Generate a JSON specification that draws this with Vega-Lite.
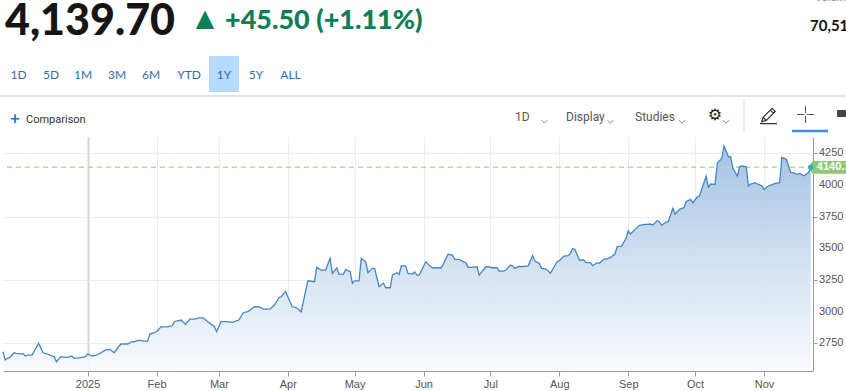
{
  "$schema": "https://vega.github.io/schema/vega-lite/v6.json",
  "width": 810,
  "height": 234,
  "autosize": "none",
  "padding": {"left": 3, "top": 137, "right": 33, "bottom": 20},
  "background": "white",
  "config": {"view": {"stroke": null}, "font": "Lato", "axisY": {"labelOverlap": false}},
  "datasets": {
    "prices": [
      {"date": "2024-11-24", "close": 2684}, {"date": "2024-11-25", "close": 2619}, {"date": "2024-11-26", "close": 2632},
      {"date": "2024-11-27", "close": 2637}, {"date": "2024-11-29", "close": 2676}, {"date": "2024-11-30", "close": 2671},
      {"date": "2024-12-02", "close": 2666}, {"date": "2024-12-03", "close": 2671}, {"date": "2024-12-04", "close": 2650},
      {"date": "2024-12-05", "close": 2658}, {"date": "2024-12-07", "close": 2658}, {"date": "2024-12-10", "close": 2750},
      {"date": "2024-12-12", "close": 2676}, {"date": "2024-12-14", "close": 2666}, {"date": "2024-12-17", "close": 2645},
      {"date": "2024-12-18", "close": 2605}, {"date": "2024-12-20", "close": 2645}, {"date": "2024-12-22", "close": 2640},
      {"date": "2024-12-23", "close": 2640}, {"date": "2024-12-25", "close": 2650}, {"date": "2024-12-26", "close": 2632},
      {"date": "2024-12-29", "close": 2637}, {"date": "2024-12-31", "close": 2645}, {"date": "2025-01-01", "close": 2666},
      {"date": "2025-01-03", "close": 2650}, {"date": "2025-01-05", "close": 2658}, {"date": "2025-01-07", "close": 2676},
      {"date": "2025-01-09", "close": 2697}, {"date": "2025-01-11", "close": 2703}, {"date": "2025-01-13", "close": 2676},
      {"date": "2025-01-15", "close": 2724}, {"date": "2025-01-16", "close": 2745}, {"date": "2025-01-19", "close": 2745},
      {"date": "2025-01-21", "close": 2763}, {"date": "2025-01-22", "close": 2763}, {"date": "2025-01-24", "close": 2776},
      {"date": "2025-01-26", "close": 2768}, {"date": "2025-01-28", "close": 2768}, {"date": "2025-01-29", "close": 2824},
      {"date": "2025-01-31", "close": 2834}, {"date": "2025-02-01", "close": 2842}, {"date": "2025-02-03", "close": 2881},
      {"date": "2025-02-06", "close": 2881}, {"date": "2025-02-08", "close": 2889}, {"date": "2025-02-09", "close": 2921},
      {"date": "2025-02-12", "close": 2934}, {"date": "2025-02-14", "close": 2900}, {"date": "2025-02-16", "close": 2942},
      {"date": "2025-02-18", "close": 2942}, {"date": "2025-02-20", "close": 2952}, {"date": "2025-02-22", "close": 2952},
      {"date": "2025-02-24", "close": 2921}, {"date": "2025-02-27", "close": 2881}, {"date": "2025-02-28", "close": 2842},
      {"date": "2025-03-02", "close": 2921}, {"date": "2025-03-05", "close": 2921}, {"date": "2025-03-07", "close": 2916},
      {"date": "2025-03-10", "close": 2934}, {"date": "2025-03-12", "close": 2992}, {"date": "2025-03-14", "close": 3000},
      {"date": "2025-03-17", "close": 3039}, {"date": "2025-03-19", "close": 3039}, {"date": "2025-03-21", "close": 3021},
      {"date": "2025-03-24", "close": 3021}, {"date": "2025-03-26", "close": 3053}, {"date": "2025-03-28", "close": 3110},
      {"date": "2025-03-29", "close": 3118}, {"date": "2025-03-31", "close": 3158}, {"date": "2025-04-03", "close": 3039},
      {"date": "2025-04-05", "close": 3031}, {"date": "2025-04-07", "close": 3000}, {"date": "2025-04-10", "close": 3244},
      {"date": "2025-04-13", "close": 3237}, {"date": "2025-04-14", "close": 3350}, {"date": "2025-04-16", "close": 3329},
      {"date": "2025-04-18", "close": 3329}, {"date": "2025-04-20", "close": 3421}, {"date": "2025-04-21", "close": 3303},
      {"date": "2025-04-23", "close": 3347}, {"date": "2025-04-24", "close": 3295}, {"date": "2025-04-26", "close": 3297},
      {"date": "2025-04-27", "close": 3334}, {"date": "2025-04-29", "close": 3316}, {"date": "2025-04-30", "close": 3224},
      {"date": "2025-05-01", "close": 3244}, {"date": "2025-05-03", "close": 3244}, {"date": "2025-05-04", "close": 3421},
      {"date": "2025-05-06", "close": 3394}, {"date": "2025-05-07", "close": 3308}, {"date": "2025-05-09", "close": 3342},
      {"date": "2025-05-10", "close": 3342}, {"date": "2025-05-12", "close": 3197}, {"date": "2025-05-14", "close": 3224},
      {"date": "2025-05-15", "close": 3189}, {"date": "2025-05-17", "close": 3189}, {"date": "2025-05-18", "close": 3289},
      {"date": "2025-05-20", "close": 3308}, {"date": "2025-05-21", "close": 3295}, {"date": "2025-05-22", "close": 3363},
      {"date": "2025-05-24", "close": 3360}, {"date": "2025-05-25", "close": 3303}, {"date": "2025-05-27", "close": 3297},
      {"date": "2025-05-28", "close": 3313}, {"date": "2025-05-29", "close": 3289}, {"date": "2025-05-30", "close": 3289},
      {"date": "2025-06-02", "close": 3394}, {"date": "2025-06-04", "close": 3360}, {"date": "2025-06-05", "close": 3347},
      {"date": "2025-06-09", "close": 3347}, {"date": "2025-06-12", "close": 3453}, {"date": "2025-06-14", "close": 3447},
      {"date": "2025-06-15", "close": 3413}, {"date": "2025-06-17", "close": 3413}, {"date": "2025-06-19", "close": 3394},
      {"date": "2025-06-20", "close": 3387}, {"date": "2025-06-21", "close": 3350}, {"date": "2025-06-23", "close": 3350},
      {"date": "2025-06-25", "close": 3355}, {"date": "2025-06-26", "close": 3289}, {"date": "2025-06-29", "close": 3355},
      {"date": "2025-06-30", "close": 3355}, {"date": "2025-07-02", "close": 3347}, {"date": "2025-07-04", "close": 3347},
      {"date": "2025-07-05", "close": 3321}, {"date": "2025-07-07", "close": 3321}, {"date": "2025-07-08", "close": 3329},
      {"date": "2025-07-10", "close": 3368}, {"date": "2025-07-11", "close": 3360}, {"date": "2025-07-12", "close": 3342},
      {"date": "2025-07-14", "close": 3360}, {"date": "2025-07-15", "close": 3355}, {"date": "2025-07-17", "close": 3360},
      {"date": "2025-07-18", "close": 3360}, {"date": "2025-07-20", "close": 3442}, {"date": "2025-07-21", "close": 3400},
      {"date": "2025-07-23", "close": 3382}, {"date": "2025-07-24", "close": 3342}, {"date": "2025-07-26", "close": 3337},
      {"date": "2025-07-28", "close": 3303}, {"date": "2025-07-31", "close": 3394}, {"date": "2025-08-01", "close": 3402},
      {"date": "2025-08-03", "close": 3439}, {"date": "2025-08-05", "close": 3442}, {"date": "2025-08-06", "close": 3461},
      {"date": "2025-08-07", "close": 3497}, {"date": "2025-08-08", "close": 3492}, {"date": "2025-08-10", "close": 3408},
      {"date": "2025-08-12", "close": 3408}, {"date": "2025-08-13", "close": 3387}, {"date": "2025-08-15", "close": 3387},
      {"date": "2025-08-16", "close": 3363}, {"date": "2025-08-18", "close": 3387}, {"date": "2025-08-19", "close": 3382},
      {"date": "2025-08-21", "close": 3413}, {"date": "2025-08-22", "close": 3416}, {"date": "2025-08-24", "close": 3429},
      {"date": "2025-08-26", "close": 3455}, {"date": "2025-08-27", "close": 3513}, {"date": "2025-08-29", "close": 3518},
      {"date": "2025-08-31", "close": 3579}, {"date": "2025-09-01", "close": 3639}, {"date": "2025-09-02", "close": 3613},
      {"date": "2025-09-04", "close": 3650}, {"date": "2025-09-06", "close": 3682}, {"date": "2025-09-08", "close": 3687},
      {"date": "2025-09-11", "close": 3692}, {"date": "2025-09-12", "close": 3684}, {"date": "2025-09-14", "close": 3718},
      {"date": "2025-09-15", "close": 3710}, {"date": "2025-09-16", "close": 3682}, {"date": "2025-09-18", "close": 3708},
      {"date": "2025-09-19", "close": 3713}, {"date": "2025-09-21", "close": 3816}, {"date": "2025-09-22", "close": 3771},
      {"date": "2025-09-24", "close": 3808}, {"date": "2025-09-26", "close": 3821}, {"date": "2025-09-27", "close": 3868},
      {"date": "2025-09-29", "close": 3887}, {"date": "2025-09-30", "close": 3860}, {"date": "2025-10-02", "close": 3907},
      {"date": "2025-10-03", "close": 3913}, {"date": "2025-10-04", "close": 3966}, {"date": "2025-10-06", "close": 4071},
      {"date": "2025-10-07", "close": 3982}, {"date": "2025-10-08", "close": 4008}, {"date": "2025-10-10", "close": 4005},
      {"date": "2025-10-11", "close": 4171}, {"date": "2025-10-13", "close": 4211}, {"date": "2025-10-14", "close": 4308},
      {"date": "2025-10-16", "close": 4223}, {"date": "2025-10-17", "close": 4223}, {"date": "2025-10-18", "close": 4132},
      {"date": "2025-10-20", "close": 4071}, {"date": "2025-10-21", "close": 4144}, {"date": "2025-10-22", "close": 4150},
      {"date": "2025-10-24", "close": 4144}, {"date": "2025-10-25", "close": 3992}, {"date": "2025-10-26", "close": 4008},
      {"date": "2025-10-28", "close": 4018}, {"date": "2025-10-29", "close": 4008}, {"date": "2025-10-31", "close": 3994},
      {"date": "2025-11-01", "close": 3966}, {"date": "2025-11-03", "close": 3992}, {"date": "2025-11-04", "close": 4000},
      {"date": "2025-11-06", "close": 4013}, {"date": "2025-11-08", "close": 4018}, {"date": "2025-11-09", "close": 4218},
      {"date": "2025-11-11", "close": 4203}, {"date": "2025-11-13", "close": 4100}, {"date": "2025-11-14", "close": 4097},
      {"date": "2025-11-16", "close": 4084}, {"date": "2025-11-17", "close": 4092}, {"date": "2025-11-19", "close": 4073},
      {"date": "2025-11-20", "close": 4087}, {"date": "2025-11-21", "close": 4097}, {"date": "2025-11-22", "close": 4139.7}
    ],
    "last": [{"date": "2025-11-22", "close": 4139.7, "tag": "4140.1"}],
    "yticks": [{"close": 2750}, {"close": 3000}, {"close": 3250}, {"close": 3500}, {"close": 3750}, {"close": 4000}, {"close": 4250}]
  },
  "layer": [
    {
      "data": {"name": "prices"},
      "mark": {
        "type": "area",
        "fillOpacity": 0.92,
        "color": {
          "gradient": "linear", "x1": 0, "y1": 0, "x2": 0, "y2": 1,
          "stops": [
            {"offset": 0, "color": "#9dbde0"},
            {"offset": 0.5, "color": "#cddef0"},
            {"offset": 1, "color": "#f8fafd"}
          ]
        }
      },
      "encoding": {
        "x": {
          "field": "date", "type": "temporal",
          "scale": {"type": "utc", "domain": [{"year": 2024, "month": 11, "date": 24, "utc": true}, {"year": 2025, "month": 11, "date": 23, "utc": true}]},
          "axis": {
            "title": null,
            "values": [
              {"year": 2025, "month": 1, "date": 1, "utc": true}, {"year": 2025, "month": 2, "date": 1, "utc": true},
              {"year": 2025, "month": 3, "date": 1, "utc": true}, {"year": 2025, "month": 4, "date": 1, "utc": true},
              {"year": 2025, "month": 5, "date": 1, "utc": true}, {"year": 2025, "month": 6, "date": 1, "utc": true},
              {"year": 2025, "month": 7, "date": 1, "utc": true}, {"year": 2025, "month": 8, "date": 1, "utc": true},
              {"year": 2025, "month": 9, "date": 1, "utc": true}, {"year": 2025, "month": 10, "date": 1, "utc": true},
              {"year": 2025, "month": 11, "date": 1, "utc": true}
            ],
            "labelExpr": "utcmonth(datum.value) == 0 ? utcFormat(datum.value, '%Y') : utcFormat(datum.value, '%b')",
            "grid": true,
            "gridColor": {"condition": {"test": "utcmonth(datum.value) == 0", "value": "#d4d4d4"}, "value": "#ececec"},
            "gridWidth": {"condition": {"test": "utcmonth(datum.value) == 0", "value": 2}, "value": 1},
            "domainColor": "#9a9a9a", "tickColor": "#9a9a9a", "tickSize": 5,
            "labelFont": "Liberation Sans", "labelFontSize": 11, "labelColor": "#555555",
            "labelPadding": 2, "labelFlush": false, "labelOverlap": false
          }
        },
        "y": {
          "field": "close", "type": "quantitative",
          "scale": {"domain": [2532, 4379], "zero": false, "nice": false},
          "axis": {
            "title": null, "orient": "right",
            "values": [2750, 3000, 3250, 3500, 3750, 4000, 4250],
            "labels": false, "grid": true, "gridColor": "#ececec",
            "domainColor": "#9a9a9a", "tickColor": "#9a9a9a", "tickSize": 4
          }
        },
        "y2": {"datum": 2532}
      }
    },
    {
      "data": {"name": "yticks"},
      "mark": {"type": "text", "align": "left", "baseline": "middle", "font": "Liberation Sans", "fontSize": 11, "color": "#555555"},
      "encoding": {
        "x": {"value": 816},
        "y": {"field": "close", "type": "quantitative"},
        "text": {"field": "close", "type": "quantitative", "format": "d"}
      }
    },
    {
      "data": {"name": "last"},
      "mark": {"type": "rule", "color": "#b3dc9c", "strokeWidth": 1.5, "strokeDash": [5, 4]},
      "encoding": {"y": {"field": "close", "type": "quantitative"}}
    },
    {
      "data": {"name": "prices"},
      "mark": {"type": "line", "color": "#4486c6", "strokeWidth": 1.3},
      "encoding": {
        "x": {"field": "date", "type": "temporal"},
        "y": {"field": "close", "type": "quantitative"}
      }
    },
    {
      "data": {"name": "last"},
      "mark": {"type": "point", "shape": "M-0.15,0L0.1,-0.32L2.3,-0.32L2.3,0.32L0.1,0.32Z", "size": 1600, "filled": true, "color": "#8ec874", "opacity": 1},
      "encoding": {
        "x": {"field": "date", "type": "temporal"},
        "y": {"field": "close", "type": "quantitative"}
      }
    },
    {
      "data": {"name": "last"},
      "mark": {"type": "text", "align": "left", "baseline": "middle", "dx": 6, "font": "Liberation Sans", "fontWeight": "bold", "fontSize": 11, "color": "white"},
      "encoding": {
        "x": {"field": "date", "type": "temporal"},
        "y": {"field": "close", "type": "quantitative"},
        "text": {"field": "tag"}
      }
    },
    {
      "data": {"name": "last"},
      "mark": {"type": "point", "filled": true, "color": "#2aa7e8", "size": 28, "opacity": 1},
      "encoding": {
        "x": {"field": "date", "type": "temporal"},
        "y": {"field": "close", "type": "quantitative"}
      }
    },
    {
      "data": {"values": [{"t": "4,139.70"}]},
      "mark": {"type": "text", "align": "left", "baseline": "alphabetic", "fontSize": 43, "fontWeight": 900, "color": "#151515", "font": "Lato"},
      "encoding": {"x": {"value": 2}, "y": {"value": -102}, "text": {"field": "t"}}
    },
    {
      "data": {"values": [{"t": "▲"}]},
      "mark": {"type": "text", "align": "center", "baseline": "alphabetic", "fontSize": 24, "color": "#0a7f55", "font": "DejaVu Sans"},
      "encoding": {"x": {"value": 202}, "y": {"value": -111}, "text": {"field": "t"}}
    },
    {
      "data": {"values": [{"t": "+45.50 (+1.11%)"}]},
      "mark": {"type": "text", "align": "left", "baseline": "alphabetic", "fontSize": 27, "fontWeight": 900, "color": "#0a7f55", "font": "Lato"},
      "encoding": {"x": {"value": 222}, "y": {"value": -108}, "text": {"field": "t"}}
    },
    {
      "data": {"values": [{"t": "70,517"}]},
      "mark": {"type": "text", "align": "left", "baseline": "alphabetic", "fontSize": 15, "fontWeight": "bold", "color": "#111111", "font": "Lato"},
      "encoding": {"x": {"value": 807}, "y": {"value": -106}, "text": {"field": "t"}}
    },
    {
      "data": {"values": [{"t": "Volume"}]},
      "mark": {"type": "text", "align": "left", "baseline": "alphabetic", "fontSize": 11, "color": "#888888", "font": "Lato"},
      "encoding": {"x": {"value": 812}, "y": {"value": -136}, "text": {"field": "t"}}
    },
    {
      "data": {"values": [{}]},
      "mark": {"type": "rect", "color": "#b5daff"},
      "encoding": {"x": {"value": 206}, "x2": {"value": 236}, "y": {"value": -81}, "y2": {"value": -45}}
    },
    {
      "data": {"values": [{"t": "1D"}]},
      "mark": {"type": "text", "align": "center", "baseline": "alphabetic", "fontSize": 12, "color": "#2e6db4", "font": "Lato"},
      "encoding": {"x": {"value": 15.5}, "y": {"value": -58.5}, "text": {"field": "t"}}
    },
    {
      "data": {"values": [{"t": "5D"}]},
      "mark": {"type": "text", "align": "center", "baseline": "alphabetic", "fontSize": 12, "color": "#2e6db4", "font": "Lato"},
      "encoding": {"x": {"value": 48}, "y": {"value": -58.5}, "text": {"field": "t"}}
    },
    {
      "data": {"values": [{"t": "1M"}]},
      "mark": {"type": "text", "align": "center", "baseline": "alphabetic", "fontSize": 12, "color": "#2e6db4", "font": "Lato"},
      "encoding": {"x": {"value": 80}, "y": {"value": -58.5}, "text": {"field": "t"}}
    },
    {
      "data": {"values": [{"t": "3M"}]},
      "mark": {"type": "text", "align": "center", "baseline": "alphabetic", "fontSize": 12, "color": "#2e6db4", "font": "Lato"},
      "encoding": {"x": {"value": 114}, "y": {"value": -58.5}, "text": {"field": "t"}}
    },
    {
      "data": {"values": [{"t": "6M"}]},
      "mark": {"type": "text", "align": "center", "baseline": "alphabetic", "fontSize": 12, "color": "#2e6db4", "font": "Lato"},
      "encoding": {"x": {"value": 148}, "y": {"value": -58.5}, "text": {"field": "t"}}
    },
    {
      "data": {"values": [{"t": "YTD"}]},
      "mark": {"type": "text", "align": "center", "baseline": "alphabetic", "fontSize": 12, "color": "#2e6db4", "font": "Lato"},
      "encoding": {"x": {"value": 186}, "y": {"value": -58.5}, "text": {"field": "t"}}
    },
    {
      "data": {"values": [{"t": "1Y"}]},
      "mark": {"type": "text", "align": "center", "baseline": "alphabetic", "fontSize": 12, "color": "#2e6db4", "font": "Lato"},
      "encoding": {"x": {"value": 221}, "y": {"value": -58.5}, "text": {"field": "t"}}
    },
    {
      "data": {"values": [{"t": "5Y"}]},
      "mark": {"type": "text", "align": "center", "baseline": "alphabetic", "fontSize": 12, "color": "#2e6db4", "font": "Lato"},
      "encoding": {"x": {"value": 253}, "y": {"value": -58.5}, "text": {"field": "t"}}
    },
    {
      "data": {"values": [{"t": "ALL"}]},
      "mark": {"type": "text", "align": "center", "baseline": "alphabetic", "fontSize": 12, "color": "#2e6db4", "font": "Lato"},
      "encoding": {"x": {"value": 287.5}, "y": {"value": -58.5}, "text": {"field": "t"}}
    },
    {
      "data": {"values": [{}]},
      "mark": {"type": "rule", "color": "#dddddd", "strokeWidth": 1.5},
      "encoding": {"x": {"value": -3}, "x2": {"value": 843}, "y": {"value": -41}}
    },
    {
      "data": {"values": [{"t": "+"}]},
      "mark": {"type": "text", "align": "center", "baseline": "middle", "fontSize": 17, "fontWeight": "bold", "color": "#1f6fd6", "font": "Lato"},
      "encoding": {"x": {"value": 12}, "y": {"value": -18}, "text": {"field": "t"}}
    },
    {
      "data": {"values": [{"t": "Comparison"}]},
      "mark": {"type": "text", "align": "left", "baseline": "middle", "fontSize": 11, "color": "#333333", "font": "Roboto"},
      "encoding": {"x": {"value": 23}, "y": {"value": -17}, "text": {"field": "t"}}
    },
    {
      "data": {"values": [{"t": "1D"}]},
      "mark": {"type": "text", "align": "left", "baseline": "middle", "fontSize": 12, "color": "#555555", "font": "Roboto"},
      "encoding": {"x": {"value": 512}, "y": {"value": -20}, "text": {"field": "t"}}
    },
    {
      "data": {"values": [{"t": "Display"}]},
      "mark": {"type": "text", "align": "left", "baseline": "middle", "fontSize": 12, "color": "#555555", "font": "Roboto"},
      "encoding": {"x": {"value": 563}, "y": {"value": -20}, "text": {"field": "t"}}
    },
    {
      "data": {"values": [{"t": "Studies"}]},
      "mark": {"type": "text", "align": "left", "baseline": "middle", "fontSize": 12, "color": "#555555", "font": "Roboto"},
      "encoding": {"x": {"value": 632}, "y": {"value": -20}, "text": {"field": "t"}}
    },
    {
      "data": {"values": [{}]},
      "mark": {"type": "point", "shape": "M-1,-0.5L0,0.5L1,-0.5", "size": 36, "filled": false, "stroke": "#888888", "strokeWidth": 1, "opacity": 1},
      "encoding": {"x": {"value": 541.5}, "y": {"value": -15.3}}
    },
    {
      "data": {"values": [{}]},
      "mark": {"type": "point", "shape": "M-1,-0.5L0,0.5L1,-0.5", "size": 36, "filled": false, "stroke": "#888888", "strokeWidth": 1, "opacity": 1},
      "encoding": {"x": {"value": 607.5}, "y": {"value": -15.3}}
    },
    {
      "data": {"values": [{}]},
      "mark": {"type": "point", "shape": "M-1,-0.5L0,0.5L1,-0.5", "size": 36, "filled": false, "stroke": "#888888", "strokeWidth": 1, "opacity": 1},
      "encoding": {"x": {"value": 679}, "y": {"value": -15.3}}
    },
    {
      "data": {"values": [{}]},
      "mark": {"type": "point", "shape": "M-1,-0.5L0,0.5L1,-0.5", "size": 36, "filled": false, "stroke": "#888888", "strokeWidth": 1, "opacity": 1},
      "encoding": {"x": {"value": 723}, "y": {"value": -15.3}}
    },
    {
      "data": {"values": [{"t": "⚙"}]},
      "mark": {"type": "text", "align": "center", "baseline": "middle", "fontSize": 16, "fontWeight": "bold", "color": "#222222", "font": "DejaVu Sans"},
      "encoding": {"x": {"value": 712}, "y": {"value": -22}, "text": {"field": "t"}}
    },
    {
      "data": {"values": [{}]},
      "mark": {"type": "rule", "color": "#dddddd", "strokeWidth": 1},
      "encoding": {"x": {"value": 741}, "y": {"value": -37}, "y2": {"value": -5}}
    },
    {
      "data": {"values": [{}]},
      "mark": {"type": "point", "shape": "M-0.75,0.75L-0.6,0.25L0.4,-0.75L0.75,-0.4L-0.25,0.6Z M-0.6,0.25L-0.25,0.6 M0.2,-0.55L0.55,-0.2 M-0.95,0.95L0.95,0.95", "size": 324, "filled": false, "stroke": "#333333", "strokeWidth": 1.2, "opacity": 1},
      "encoding": {"x": {"value": 765.5}, "y": {"value": -22}}
    },
    {
      "data": {"values": [{}]},
      "mark": {"type": "point", "shape": "M-1,0L-0.15,0M0.15,0L1,0M0,-1L0,-0.15M0,0.15L0,1", "size": 289, "filled": false, "stroke": "#555555", "strokeWidth": 1, "opacity": 1},
      "encoding": {"x": {"value": 802.5}, "y": {"value": -22.5}}
    },
    {
      "data": {"values": [{}]},
      "mark": {"type": "rule", "color": "#3d8fef", "strokeWidth": 2.5},
      "encoding": {"x": {"value": 789}, "x2": {"value": 825}, "y": {"value": -6}}
    },
    {
      "data": {"values": [{}]},
      "mark": {"type": "rect", "color": "#444444", "cornerRadius": 1},
      "encoding": {"x": {"value": 834}, "x2": {"value": 843}, "y": {"value": -27}, "y2": {"value": -20}}
    }
  ]
}
